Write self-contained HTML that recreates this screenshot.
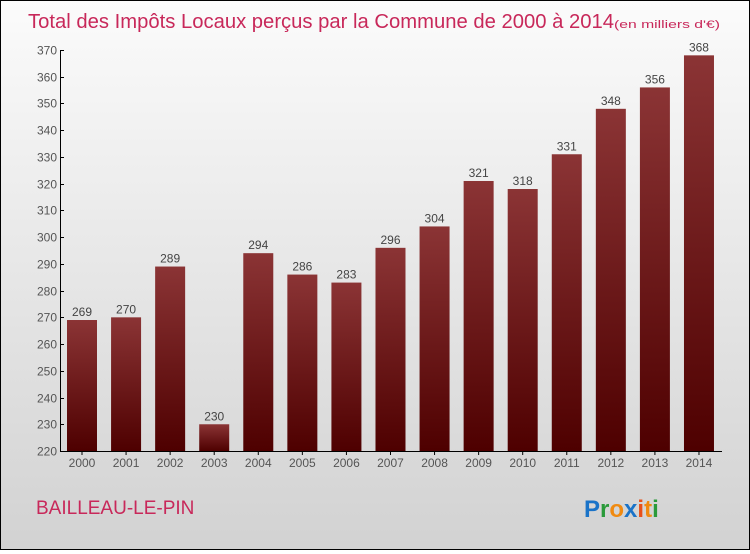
<!DOCTYPE html>
<html><head><meta charset="utf-8"><style>
html,body{margin:0;padding:0}
body{width:750px;height:550px;overflow:hidden;font-family:"Liberation Sans",sans-serif}
#wrap{position:absolute;left:0;top:0;width:748px;height:548px;border:1px solid #000;background:linear-gradient(#fbfbfb,#d2d2d2)}
</style></head><body>
<div id="wrap">
<svg id="chart" width="748" height="548" xmlns="http://www.w3.org/2000/svg">
<defs><linearGradient id="bg" x1="0" y1="0" x2="0" y2="1"><stop offset="0" stop-color="#8b3435"/><stop offset="1" stop-color="#4e0000"/></linearGradient></defs>
<text x="27" y="27" font-size="20" fill="#c8285a" textLength="586" lengthAdjust="spacingAndGlyphs">Total des Impôts Locaux perçus par la Commune de 2000 à 2014</text>
<text x="613" y="27" font-size="11" fill="#c8285a" textLength="106" lengthAdjust="spacingAndGlyphs">(en milliers d'€)</text>
<text x="35" y="513" font-size="19" fill="#c8285a">BAILLEAU-LE-PIN</text>
<g font-size="24" font-weight="bold"><text x="583" y="516"><tspan fill="#1a73c8">P</tspan><tspan fill="#2a9a3a">r</tspan><tspan fill="#f08a10">o</tspan><tspan fill="#1a73c8">x</tspan><tspan fill="#e8501a">i</tspan><tspan fill="#f08a10">t</tspan><tspan fill="#2a9a3a">i</tspan></text></g>
<g id="axes"></g><g id="bars"></g>
</svg></div>
<script>
const years=["2000","2001","2002","2003","2004","2005","2006","2007","2008","2009","2010","2011","2012","2013","2014"];
const values=[269,270,289,230,294,286,283,296,304,321,318,331,348,356,368];
const yTicks=[220,230,240,250,260,270,280,290,300,310,320,330,340,350,360,370];
const NS="http://www.w3.org/2000/svg";
const y0=450,yTop=49,vMin=220,vMax=370;
function yS(v){return y0-(v-vMin)/(vMax-vMin)*(y0-yTop);}
function xS(i){return 81+i*44.07;}
const ax=document.getElementById('axes'),bs=document.getElementById('bars');
function mk(t,a,p){const e=document.createElementNS(NS,t);for(const k in a)e.setAttribute(k,a[k]);p.appendChild(e);return e;}
const yl=mk('line',{x1:59.5,x2:59.5,y1:yTop,y2:y0,stroke:'#000'},ax);


const xl=mk('line',{x1:59,x2:721,y1:y0+0.5,y2:y0+0.5,stroke:'#000'},ax);


yTicks.forEach(v=>{const y=Math.round(yS(v))+0.5;
mk('line',{x1:59,x2:63,y1:y,y2:y,stroke:'#000'},ax);
const t=mk('text',{x:56,y:y+4,'font-size':12,fill:'#555','text-anchor':'end'},ax);t.textContent=v;

});
values.forEach((v,i)=>{const x=xS(i);
const r=mk('rect',{x:x-15,y:yS(v),width:30,height:y0-yS(v),fill:'url(#bg)'},bs);


const l=mk('text',{x:x,y:yS(v)-4,'font-size':12,fill:'#444','text-anchor':'middle'},bs);l.textContent=v;


mk('line',{x1:x,x2:x,y1:y0,y2:y0+4,stroke:'#000'},ax);
const t=mk('text',{x:x,y:466,'font-size':12,fill:'#555','text-anchor':'middle'},ax);t.textContent=years[i];

});
</script>
</body></html>
